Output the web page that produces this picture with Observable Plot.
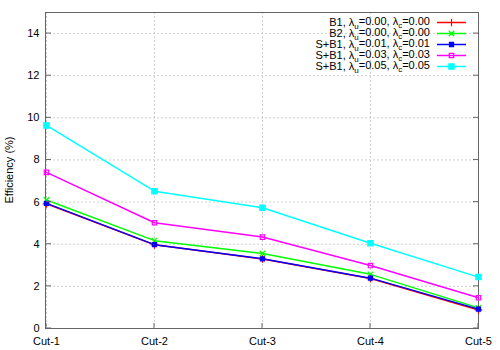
<!DOCTYPE html>
<html><head><meta charset="utf-8">
<script src="https://cdn.jsdelivr.net/npm/d3@7"></script>
<script src="https://cdn.jsdelivr.net/npm/@observablehq/plot@0.6"></script>
<style>body{margin:0;background:#fff}</style>
</head><body><div id="chart"></div>
<script>
const cuts = ["Cut-1","Cut-2","Cut-3","Cut-4","Cut-5"];
const seriesNames = ["B1", "B2", "S+B1", "S+B1", "S+B1"];
const lambdaU = ["0.00","0.00","0.01","0.03","0.05"];
const lambdaC = ["0.00","0.00","0.01","0.03","0.05"];
const colors = ["#ff0000","#00ff00","#0000ff","#ff00ff","#00ffff"];
const b1 = [5.92, 3.97, 3.30, 2.37, 0.88];
const b2 = [6.10, 4.17, 3.56, 2.57, 0.98];
const sb1_01 = [5.94, 3.98, 3.31, 2.39, 0.92];
const sb1_03 = [7.41, 5.02, 4.34, 2.99, 1.46];
const sb1_05 = [9.64, 6.52, 5.73, 4.05, 2.44];
const yTicks = [0,2,4,6,8,10,12,14];

const allValues = [b1, b2, sb1_01, sb1_03, sb1_05];
const data = [];
allValues.forEach((vals, s) => vals.forEach((v, i) => data.push({s, cut: cuts[i], v})));

const syms = ["plus","times","square","square","square"];
const symSize = [2.6, 2.6, 2.3, 2.5, 3.0];
const filled = [false,false,true,false,true];

const font = "Liberation Sans, Arial, Helvetica, sans-serif";
const plot = Plot.plot({
  width: 500, height: 350,
  marginLeft: 45, marginRight: 22, marginTop: 12, marginBottom: 22,
  style: {fontFamily: font, fontSize: "11px", color: "#000", background: "#fff"},
  x: {type: "point", domain: cuts, padding: 0},
  y: {domain: [0, 15]},
  marks: [
    Plot.gridY(yTicks, {stroke: "#bbb", strokeOpacity: 0.7, strokeDasharray: "2,2"}),
    Plot.gridX(cuts, {stroke: "#bbb", strokeOpacity: 0.7, strokeDasharray: "2,2"}),
    Plot.axisY(yTicks, {anchor: "left", tickSize: 0, tickPadding: 6, label: null, fontSize: 11}),
    Plot.axisX(cuts, {anchor: "bottom", tickSize: 0, tickPadding: 9, label: null, fontSize: 11}),
    Plot.frame({stroke: "#666"}),
    ...allValues.map((vals, s) => Plot.line(data.filter(d => d.s === s), {x: "cut", y: "v", stroke: colors[s], strokeWidth: 1.5})),
    ...allValues.map((vals, s) => Plot.dot(data.filter(d => d.s === s), {
      x: "cut", y: "v", symbol: () => syms[s], r: symSize[s],
      stroke: colors[s], fill: filled[s] ? colors[s] : "none", strokeWidth: 1.2
    }))
  ]
});
document.getElementById("chart").appendChild(plot);

const svg = d3.select(plot);
const yScale = plot.scale("y");
const xScale = plot.scale("x");
const x0 = xScale.apply(cuts[0]), x1 = xScale.apply(cuts[cuts.length-1]);
const y0 = yScale.apply(0);
// short inward ticks (gnuplot style), from the scales
const tg = svg.append("g").attr("stroke", "#666").attr("stroke-width", 1);
yTicks.forEach(t => {
  const y = yScale.apply(t);
  tg.append("line").attr("x1", x0).attr("x2", x0 + 5).attr("y1", y).attr("y2", y);
  tg.append("line").attr("x1", x1).attr("x2", x1 - 5).attr("y1", y).attr("y2", y);
});
cuts.forEach(c => {
  const x = xScale.apply(c);
  tg.append("line").attr("x1", x).attr("x2", x).attr("y1", y0).attr("y2", y0 - 5);
});

// y label
svg.append("text").attr("transform", `translate(13,${(yScale.apply(0)+yScale.apply(15))/2}) rotate(-90)`)
  .attr("text-anchor", "middle").attr("font-size", 11).attr("font-family", font).text("Efficiency (%)");

// legend
const lg = svg.append("g").attr("font-family", font).attr("font-size", 11);
seriesNames.forEach((n, s) => {
  const y = 22.5 + s * 11;
  const t = lg.append("text").attr("x", 430).attr("y", y).attr("dy", "0.35em").attr("text-anchor", "end");
  t.append("tspan").text(`${n}, λ`);
  t.append("tspan").attr("font-size", 8).attr("dy", "0.3em").text("u");
  t.append("tspan").attr("dy", "-0.3em").text(`=${lambdaU[s]}, λ`);
  t.append("tspan").attr("font-size", 8).attr("dy", "0.3em").text("c");
  t.append("tspan").attr("dy", "-0.3em").text(`=${lambdaC[s]}`);
  lg.append("line").attr("x1", 437).attr("x2", 466).attr("y1", y).attr("y2", y)
    .attr("stroke", colors[s]).attr("stroke-width", 1.5);
  const sym = d3.symbol().type(syms[s] === "plus" ? d3.symbolPlus : syms[s] === "times" ? d3.symbolTimes : d3.symbolSquare)
    .size(Math.PI * symSize[s] * symSize[s]);
  lg.append("path").attr("d", sym()).attr("transform", `translate(451.5,${y})`)
    .attr("stroke", colors[s]).attr("fill", filled[s] ? colors[s] : "none").attr("stroke-width", 1.2);
});
</script>
</body></html>
